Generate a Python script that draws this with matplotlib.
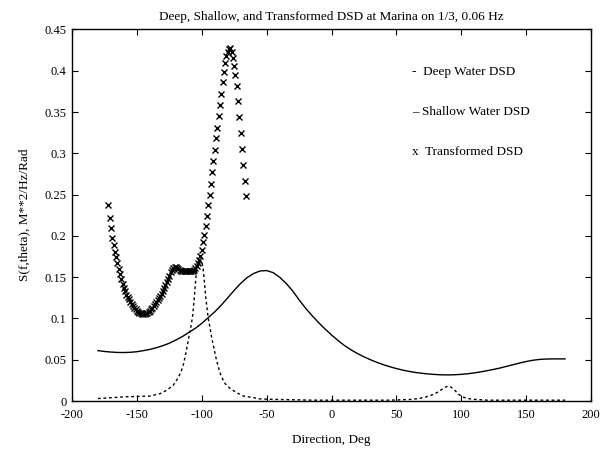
import numpy as np
import matplotlib
matplotlib.use("Agg")
import matplotlib.pyplot as plt

plt.rcParams['font.family'] = ['Liberation Serif', 'DejaVu Serif']

# ---------------- data ----------------
title = "Deep, Shallow, and Transformed DSD at Marina on 1/3, 0.06 Hz"
xlabel = "Direction, Deg"
ylabel = "S(f,theta), M**2/Hz/Rad"

xticks = [-200, -150, -100, -50, 0, 50, 100, 150, 200]
yticks = [0, 0.05, 0.1, 0.15, 0.2, 0.25, 0.3, 0.35, 0.4, 0.45]
ytick_labels = ["0", "0.05", "0.1", "0.15", "0.2", "0.25", "0.3", "0.35", "0.4", "0.45"]

deep_dir = [-180, -170, -160, -150, -140, -132, -127, -122, -119, -116, -114, -112,
            -110, -109, -108, -107, -106, -105, -104, -103, -102, -101, -100, -99,
            -98, -97, -96, -95, -94, -92.5, -91, -89, -87, -85, -82, -78, -73, -68,
            -60, -55, -45, -30, -15, 0, 15, 30, 45, 55, 62, 67, 72, 76, 80, 84, 87,
            89.5, 92, 95, 98, 101, 105, 110, 120, 140, 160, 180]
deep_val = [0.003, 0.004, 0.005, 0.0055, 0.006, 0.009, 0.013, 0.019, 0.026, 0.035, 0.045, 0.060,
            0.077, 0.085, 0.093, 0.104, 0.120, 0.140, 0.160, 0.167, 0.170, 0.170, 0.168, 0.162,
            0.145, 0.127, 0.113, 0.100, 0.092, 0.078, 0.067, 0.052, 0.040, 0.030, 0.021, 0.015, 0.010, 0.006,
            0.004, 0.0025, 0.002, 0.0015, 0.001, 0.001, 0.001, 0.001, 0.001, 0.0015, 0.002, 0.003, 0.0045, 0.0065, 0.009, 0.013, 0.016,
            0.018, 0.017, 0.013, 0.008, 0.005, 0.003, 0.002, 0.001, 0.001, 0.001, 0.001]

shallow_dir = [-180, -175, -170, -165, -160, -155, -150, -145, -140, -135, -130, -125,
               -120, -115, -110, -105, -100, -95, -90, -85, -80, -75, -70, -65, -60,
               -55, -50, -45, -40, -35, -30, -25, -20, -15, -10, -5, 0, 5, 10, 15, 20,
               25, 30, 35, 40, 45, 50, 55, 60, 65, 70, 75, 80, 85, 90, 95, 100, 105,
               110, 115, 120, 125, 130, 135, 140, 145, 150, 155, 160, 165, 170, 175, 180]
shallow_val = [0.061, 0.060, 0.0593, 0.0588, 0.0587, 0.059, 0.0597, 0.061, 0.0625, 0.0645, 0.067, 0.070,
               0.0738, 0.078, 0.083, 0.088, 0.094, 0.101, 0.108, 0.116, 0.125, 0.134, 0.1425, 0.1495, 0.1545,
               0.1575, 0.158, 0.1555, 0.150, 0.1425, 0.1335, 0.1225, 0.1125, 0.1035, 0.095, 0.0873, 0.080, 0.0733, 0.0672, 0.062, 0.0575,
               0.0535, 0.050, 0.0468, 0.044, 0.0415, 0.0393, 0.0374, 0.0358, 0.0345, 0.0335, 0.0327, 0.0321, 0.0317, 0.0316, 0.0318, 0.0323, 0.033,
               0.034, 0.0353, 0.0367, 0.0383, 0.040, 0.042, 0.044, 0.046, 0.0478, 0.0493, 0.0503, 0.0508, 0.051, 0.051, 0.051]

trans_start, trans_stop = -172, -66   # one value per degree
trans_val = [0.238, 0.222, 0.209, 0.198, 0.189, 0.181, 0.174, 0.167, 0.160, 0.154,
             0.148, 0.142, 0.137, 0.133, 0.129, 0.126, 0.123, 0.120, 0.117, 0.115,
             0.113, 0.111, 0.109, 0.108, 0.107, 0.106, 0.105, 0.105, 0.105, 0.106,
             0.107, 0.108, 0.109, 0.111, 0.113, 0.115, 0.117, 0.120, 0.122, 0.125,
             0.127, 0.130, 0.133, 0.137, 0.140, 0.144, 0.148, 0.152, 0.156, 0.159,
             0.161, 0.162, 0.162, 0.161, 0.160, 0.159, 0.158, 0.158, 0.157, 0.157,
             0.157, 0.157, 0.157, 0.157, 0.157, 0.158, 0.159, 0.161, 0.164, 0.167,
             0.171, 0.176, 0.183, 0.192, 0.201, 0.212, 0.224, 0.237, 0.250, 0.263,
             0.277, 0.291, 0.304, 0.318, 0.331, 0.345, 0.358, 0.372, 0.386, 0.399,
             0.410, 0.418, 0.423, 0.426, 0.427, 0.423, 0.416, 0.406, 0.395, 0.381,
             0.363, 0.344, 0.325, 0.305, 0.286, 0.267, 0.248]
trans_dir = np.arange(trans_start, trans_stop + 1)

legend_lines = ["-  Deep Water DSD", "\u2013 Shallow Water DSD", "x  Transformed DSD"]

# ---------------- figure ----------------
W, H = 605, 457
fig = plt.figure(figsize=(W / 100, H / 100), dpi=100)
ax = fig.add_axes([72 / W, 1 - 401 / H, (591 - 72) / W, (401 - 29.5) / H])

ax.plot(deep_dir, deep_val, color='black', lw=1.0, linestyle=(0, (2.0, 2.0)))
ax.plot(shallow_dir, shallow_val, color='black', lw=1.0, solid_joinstyle='round')
ax.plot(trans_dir, trans_val, linestyle='none', marker='x', color='black',
        markersize=3.8, markeredgewidth=1.0)

ax.set_xlim(-200, 200)
ax.set_ylim(0, 0.45)
ax.set_xticks(xticks)
ax.set_xticklabels([str(t) for t in xticks])
ax.set_yticks(yticks)
ax.set_yticklabels(ytick_labels)
ax.tick_params(direction='in', top=True, right=True, length=4, width=0.8,
               labelsize=9)
ax.tick_params(axis='x', pad=6)
ax.tick_params(axis='y', pad=4)
for s in ax.spines.values():
    s.set_linewidth(1.0)

ax.set_title(title, fontsize=9.5, pad=7)
ax.set_xlabel(xlabel, fontsize=9.5, labelpad=9)
ax.set_ylabel(ylabel, fontsize=9.5, labelpad=10)

ys = [71.7, 111.7, 151.7]
for txt, yp in zip(legend_lines, ys):
    fig.text(412 / W, 1 - yp / H, txt, fontsize=9.5, ha='left', va='center')

fig.savefig("out.png", dpi=100)
